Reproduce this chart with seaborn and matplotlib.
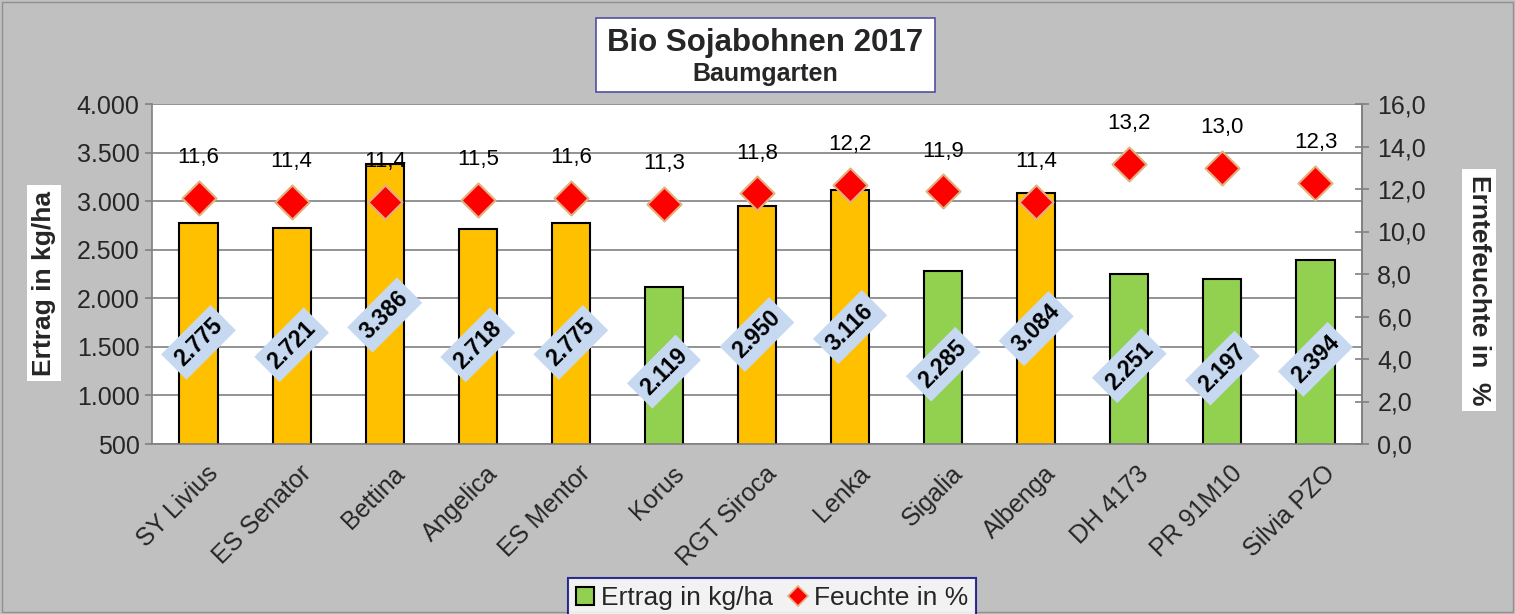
import numpy as np
import pandas as pd
import matplotlib
matplotlib.use("Agg")
import matplotlib.pyplot as plt
import matplotlib.patches as mpatches
import matplotlib.transforms as mtransforms
from matplotlib.lines import Line2D
import seaborn as sns

sorten = ["SY Livius", "ES Senator", "Bettina", "Angelica", "ES Mentor", "Korus",
          "RGT Siroca", "Lenka", "Sigalia", "Albenga", "DH 4173", "PR 91M10", "Silvia PZO"]
ertrag = [2775, 2721, 3386, 2718, 2775, 2119, 2950, 3116, 2285, 3084, 2251, 2197, 2394]
feuchte = [11.6, 11.4, 11.4, 11.5, 11.6, 11.3, 11.8, 12.2, 11.9, 11.4, 13.2, 13.0, 12.3]
gruppe = ["o", "o", "o", "o", "o", "g", "o", "o", "g", "o", "g", "g", "g"]
left_ticks = [500, 1000, 1500, 2000, 2500, 3000, 3500, 4000]
right_ticks = [0, 2, 4, 6, 8, 10, 12, 14, 16]

sns.set_theme(style="white")
plt.rcParams["font.family"] = ["Liberation Sans", "DejaVu Sans"]

W, H = 1515, 614
fig = plt.figure(figsize=(W / 100, H / 100), dpi=100, facecolor="#C0C0C0")
ax = fig.add_axes([152 / W, 1 - 444 / H, (1362 - 152) / W, (444 - 104) / H])
ax.set_facecolor("white")

df = pd.DataFrame({"Sorte": sorten, "Ertrag": ertrag, "Gruppe": gruppe})
sns.barplot(data=df, x="Sorte", y="Ertrag", hue="Gruppe",
            palette={"o": "#FFC000", "g": "#92D050"}, saturation=1, dodge=False, width=0.41,
            edgecolor="black", linewidth=1.5, legend=False, ax=ax, zorder=2)
ax.set_ylim(500, 4000)
ax.set_xlim(-0.5, len(sorten) - 0.5)
ax.set_yticks(left_ticks)
ax.set_yticklabels([f"{v:,}".replace(",", ".") for v in left_ticks], fontsize=18)
ax.yaxis.grid(True, color="#808080", linewidth=1.2, zorder=0)
ax.set_axisbelow(True)
ax.set_xlabel("")
ax.set_ylabel("")
ax.set_xticks(range(len(sorten)))
ax.set_xticklabels(sorten, rotation=45, ha="right", va="center", rotation_mode="anchor", fontsize=18)
ax.tick_params(axis="x", length=0, pad=0)
shift = mtransforms.ScaledTranslation(16 / 100, -26 / 100, fig.dpi_scale_trans)
for lab in ax.get_xticklabels():
    lab.set_transform(lab.get_transform() + shift)
ax.set_xticks(np.arange(-0.5, len(sorten), 1), minor=True)
ax.tick_params(axis="x", which="minor", length=6, color="#808080", width=1.2, direction="out")
ax.tick_params(axis="y", length=5, color="#808080", width=1.2, direction="out", pad=4)
ax.spines["top"].set_visible(False)
for s in ["left", "bottom", "right"]:
    ax.spines[s].set_color("#808080")
    ax.spines[s].set_linewidth(1.2)

for i, v in enumerate(ertrag):
    ypos = 500 + 0.46 * (v - 500)
    ax.text(i, ypos, f"{v:,}".replace(",", "."), rotation=45, ha="center", va="center",
            fontsize=16.5, fontweight="bold", color="black", zorder=4,
            bbox=dict(boxstyle="square,pad=0.28", facecolor="#C6D9F1", edgecolor="none"))

ax2 = ax.twinx()
sns.scatterplot(x=list(range(len(sorten))), y=feuchte, marker="D", s=300, color="#FF0000",
                edgecolor="#E0B080", linewidth=1.5, ax=ax2, zorder=5, legend=False)
ax2.set_ylim(0, 16)
ax2.set_yticks(right_ticks)
ax2.set_yticklabels([f"{v:.1f}".replace(".", ",") for v in right_ticks], fontsize=18)
ax2.tick_params(axis="y", length=10, color="#808080", width=1.2, direction="inout", pad=6)
ax2.set_xlim(-0.5, len(sorten) - 0.5)
for s in ["top", "left", "bottom"]:
    ax2.spines[s].set_visible(False)
ax2.spines["right"].set_color("#808080")
ax2.spines["right"].set_linewidth(1.2)
for i, v in enumerate(feuchte):
    ax2.annotate(f"{v:.1f}".replace(".", ","), (i, v), xytext=(0, 40), textcoords="offset pixels",
                 ha="center", va="center", fontsize=16, color="black")

# axis titles
fig.text(44 / W, 1 - 283 / H, "Ertrag in kg/ha", rotation=90, ha="center", va="center",
         fontsize=19, fontweight="bold",
         bbox=dict(boxstyle="square,pad=0.2", facecolor="white", edgecolor="none"))
fig.text(1479 / W, 1 - 290 / H, "Erntefeuchte in  %", rotation=270, ha="center", va="center",
         fontsize=19, fontweight="bold",
         bbox=dict(boxstyle="square,pad=0.2", facecolor="white", edgecolor="none"))

# title box
fig.patches.append(mpatches.Rectangle((596 / W, 1 - 92 / H), (935 - 596) / W, (92 - 18) / H,
                                      transform=fig.transFigure, facecolor="white",
                                      edgecolor="#5050A0", linewidth=1.2))
fig.text(765 / W, 1 - 43 / H, "Bio Sojabohnen 2017", ha="center", va="center",
         fontsize=22.5, fontweight="bold")
fig.text(765 / W, 1 - 74 / H, "Baumgarten", ha="center", va="center",
         fontsize=18, fontweight="bold")

# outer border
fig.patches.append(mpatches.Rectangle((2 / W, 2 / H), (W - 4) / W, (H - 4) / H,
                                      transform=fig.transFigure, facecolor="none",
                                      edgecolor="#909090", linewidth=1))

handles = [mpatches.Patch(facecolor="#92D050", edgecolor="black", linewidth=1.5, label="Ertrag in kg/ha"),
           Line2D([], [], marker="D", linestyle="none", markersize=10, markerfacecolor="#FF0000",
                  markeredgecolor="#E0B080", markeredgewidth=1.2, label="Feuchte in %")]
leg = fig.legend(handles=handles, loc="center", bbox_to_anchor=(772 / W, 1 - 598 / H), ncol=2,
                 fontsize=19, frameon=True, fancybox=False, handlelength=0.7, handleheight=0.7,
                 handletextpad=0.25, columnspacing=0.6, borderpad=0.3)
leg.get_frame().set_edgecolor("#000080")
leg.get_frame().set_linewidth(1.5)

fig.savefig("out.png", dpi=100, facecolor=fig.get_facecolor())
